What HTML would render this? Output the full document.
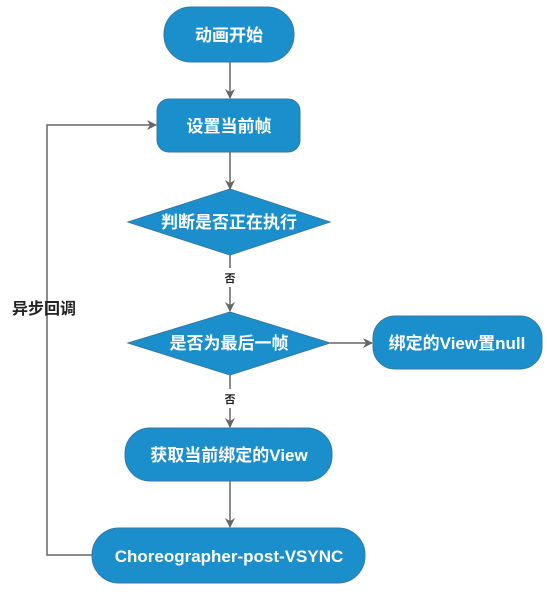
<!DOCTYPE html>
<html><head><meta charset="utf-8"><style>
body{margin:0;width:547px;height:591px;background:#fff;overflow:hidden}
svg text{font-family:"Liberation Sans","Noto Sans CJK SC",sans-serif;font-weight:bold}
</style></head><body>
<svg width="547" height="591" xmlns="http://www.w3.org/2000/svg">
<defs><marker id="a" markerWidth="10" markerHeight="10" refX="9" refY="5" orient="auto" markerUnits="userSpaceOnUse"><path d="M0,0 L10,5 L0,10 L3,5 Z" fill="#666"/></marker></defs>
<g stroke="#666" stroke-width="1.5" fill="none">
<line x1="230" y1="62" x2="230" y2="98" marker-end="url(#a)"/>
<line x1="230" y1="152" x2="230" y2="189" marker-end="url(#a)"/>
<line x1="230" y1="255" x2="230" y2="268"/>
<line x1="230" y1="287" x2="230" y2="311" marker-end="url(#a)"/>
<line x1="330" y1="343" x2="372" y2="343" marker-end="url(#a)"/>
<line x1="230" y1="375" x2="230" y2="389"/>
<line x1="230" y1="408" x2="230" y2="427" marker-end="url(#a)"/>
<line x1="230" y1="481" x2="230" y2="527" marker-end="url(#a)"/>
<polyline points="92,555 47,555 47,125 156,125" marker-end="url(#a)"/>
</g>
<g fill="#1a8fcc" stroke="#3579a3" stroke-width="1">
<rect x="164" y="7" width="130" height="55" rx="27"/>
<rect x="157" y="99" width="143" height="53" rx="12"/>
<polygon points="128,222 230,189 330,222 230,255"/>
<polygon points="128,343 230,312 330,343 230,375"/>
<rect x="373" y="316" width="169" height="53" rx="22"/>
<rect x="125" y="428" width="207" height="53" rx="25"/>
<rect x="92" y="528" width="273" height="55" rx="27"/>
</g>
<g fill="#fff" font-size="17" text-anchor="middle">
<text x="229" y="41">动画开始</text>
<text x="229" y="132">设置当前帧</text>
<text x="229" y="228">判断是否正在执行</text>
<text x="229" y="349">是否为最后一帧</text>
<text x="457" y="349">绑定的View置null</text>
<text x="229" y="461">获取当前绑定的View</text>
<text x="229" y="562">Choreographer-post-VSYNC</text>
</g>
<g fill="#222" text-anchor="middle">
<text x="230" y="282" font-size="11" font-weight="normal">否</text>
<text x="230" y="403" font-size="11" font-weight="normal">否</text>
<text x="44" y="314" font-size="16">异步回调</text>
</g>
</svg>
</body></html>
